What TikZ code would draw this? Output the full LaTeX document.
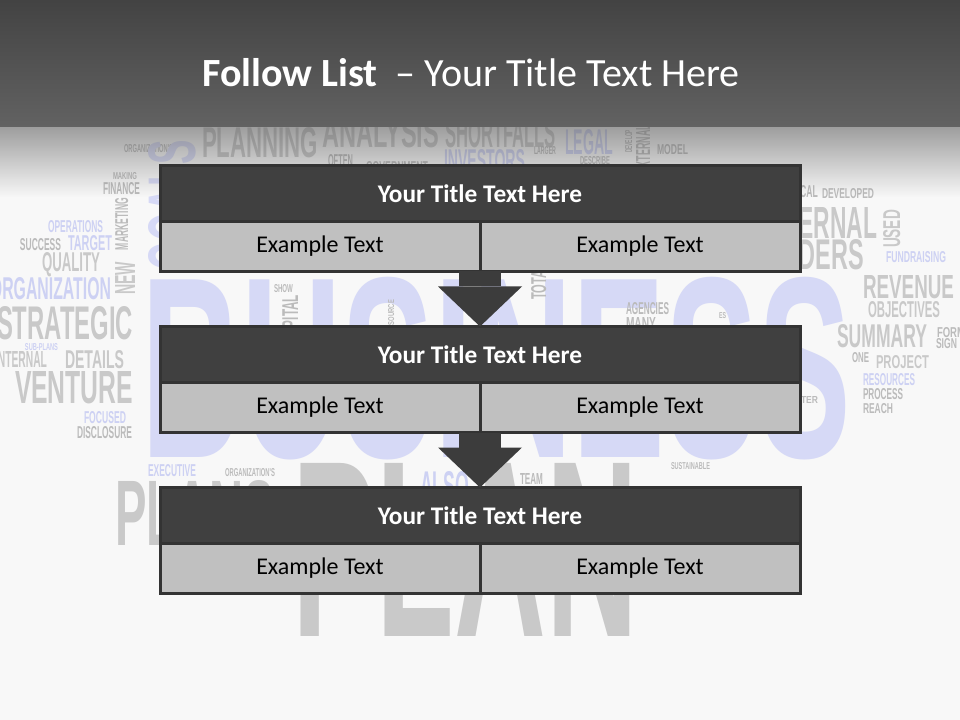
\documentclass[tikz,border=0pt]{standalone}
\usepackage{fontspec}
\setmainfont{Carlito}
\newfontfamily\cloudfont{Liberation Sans}
\usetikzlibrary{arrows.meta,positioning,fadings}

\definecolor{pagebg}{HTML}{F8F8F8}
\definecolor{bandtop}{HTML}{434343}
\definecolor{bandlow}{HTML}{626262}
\definecolor{boxline}{HTML}{333333}
\definecolor{headfill}{HTML}{404040}
\definecolor{cellfill}{HTML}{C0C0C0}
\definecolor{arrowfill}{HTML}{3C3C3C}
\definecolor{lavsmall}{HTML}{CDD1F3}
\definecolor{lavbig}{HTML}{D6D9F6}
\definecolor{graybig}{HTML}{C9C9C9}
\definecolor{graysmall}{HTML}{BBBBBB}

% one pixel of the 960x720 slide
\newlength\pxu
\setlength\pxu{0.75pt}
% word of the cloud: width, cap height, text
\newcommand\cloudword[3]{\resizebox{#1\pxu}{#2\pxu}{\cloudfont\bfseries #3}}
% upright word of the cloud: thickness, length, text
\newcommand\cloudup[3]{\rotatebox{90}{\resizebox{#2\pxu}{#1\pxu}{\cloudfont\bfseries #3}}}

\tikzfading[name=bandfade, top color=transparent!40, bottom color=transparent!100]

\tikzset{
	word/.style={anchor=north west, inner sep=0pt, outer sep=0pt},
	head/.style={draw=boxline, fill=headfill, line width=2.25pt, inner sep=0pt, outer sep=0pt,
		minimum width=480pt, minimum height=42pt, text=white, font=\bfseries\fontsize{19}{21}\selectfont},
	cell/.style={draw=boxline, fill=cellfill, line width=2.25pt, inner sep=0pt, outer sep=0pt,
		minimum width=240pt, minimum height=37.5pt, font=\fontsize{18}{20}\selectfont},
	flow/.style={draw=arrowfill, line width=31.5pt,
		-{Triangle[length=30pt, width=63pt, line width=0pt]}},
}

\begin{document}
\begin{tikzpicture}[x=0.75pt, y=-0.75pt]
	\useasboundingbox (0,0) rectangle (960,720);
	\clip (0,0) rectangle (960,720);
	\fill[pagebg] (0,0) rectangle (960,720);

	% word cloud, left
	\node[word, text=graysmall] (orgs) at (124,145) {\cloudword{49}{8}{ORGANIZATION'S}};
	\node[word, text=graysmall] (making) at (113,173) {\cloudword{24}{7}{MAKING}};
	\node[word, text=graysmall] (finance) at (103,183) {\cloudword{37}{12}{FINANCE}};
	\node[word, text=lavbig] (goals) at (148,140) {\cloudup{47}{130}{GOALS}};
	\node[word, text=lavsmall] (operations) at (48,221) {\cloudword{55}{12}{OPERATIONS}};
	\node[word, text=graysmall] (success) at (20,239) {\cloudword{41}{12}{SUCCESS}};
	\node[word, text=lavsmall] (target) at (68,236) {\cloudword{44}{15}{TARGET}};
	\node[word, text=graysmall] (marketing) at (115,198) {\cloudup{13}{52}{MARKETING}};
	\node[word, text=graybig] (quality) at (42,253) {\cloudword{58}{19}{QUALITY}};
	\node[word, text=graybig] (new) at (115,262) {\cloudup{20}{33}{NEW}};
	\node[word, text=lavsmall] (organization) at (-10,278) {\cloudword{121}{22}{ORGANIZATION}};
	\node[word, text=graybig] (strategic) at (-3,307) {\cloudword{136}{33}{STRATEGIC}};
	\node[word, text=lavsmall] (subplans) at (25,343) {\cloudword{33}{7}{SUB-PLANS}};
	\node[word, text=graybig] (internal) at (-5,352) {\cloudword{52}{16}{INTERNAL}};
	\node[word, text=graybig] (details) at (65,350) {\cloudword{59}{18}{DETAILS}};
	\node[word, text=graybig] (venture) at (15,371) {\cloudword{118}{32}{VENTURE}};
	\node[word, text=lavsmall] (focused) at (84,411) {\cloudword{42}{12}{FOCUSED}};
	\node[word, text=graysmall] (disclosure) at (77,426) {\cloudword{55}{12}{DISCLOSURE}};
	\node[word, text=lavsmall] (executive) at (148,464) {\cloudword{48}{12}{EXECUTIVE}};
	\node[word, text=graysmall] (orgs2) at (225,468) {\cloudword{50}{8}{ORGANIZATION'S}};
	\node[word, text=graybig] (plans) at (115,480) {\cloudword{160}{65}{PLANS}};

	% word cloud, middle
	\node[word, text=lavbig] (business) at (141,277) {\cloudword{709}{180}{BUSINESS}};
	\node[word, text=graybig] (plan) at (292,463) {\cloudword{346}{173}{PLAN}};
	\node[word, text=graybig] (planning) at (202,128) {\cloudword{116}{30}{PLANNING}};
	\node[word, text=graybig] (analysis) at (322,118) {\cloudword{117}{30}{ANALYSIS}};
	\node[word, text=graysmall] (often) at (328,155) {\cloudword{25}{12}{OFTEN}};
	\node[word, text=graysmall] (government) at (366,162) {\cloudword{62}{11}{GOVERNMENT}};
	\node[word, text=graybig] (shortfalls) at (445,119) {\cloudword{111}{29}{SHORTFALLS}};
	\node[word, text=lavsmall] (investors) at (444,150) {\cloudword{81}{22}{INVESTORS}};
	\node[word, text=graysmall] (larger) at (534,147) {\cloudword{22}{8}{LARGER}};
	\node[word, text=lavsmall] (legal) at (565,130) {\cloudword{48}{25}{LEGAL}};
	\node[word, text=graysmall] (describe) at (580,157) {\cloudword{30}{8}{DESCRIBE}};
	\node[word, text=graysmall] (develop) at (625,130) {\cloudup{7}{23}{DEVELOP}};
	\node[word, text=graysmall] (external1) at (636,125) {\cloudup{14}{48}{EXTERNAL}};
	\node[word, text=graysmall] (model) at (657,145) {\cloudword{31}{10}{MODEL}};
	\node[word, text=graysmall] (show) at (274,284) {\cloudword{19}{8}{SHOW}};
	\node[word, text=graysmall] (capital) at (282,295) {\cloudup{16}{50}{CAPITAL}};
	\node[word, text=graysmall] (source) at (388,300) {\cloudup{6}{25}{SOURCE}};
	\node[word, text=graysmall] (total) at (531,264) {\cloudup{15}{36}{TOTAL}};
	\node[word, text=graysmall] (agencies) at (626,303) {\cloudword{43}{12}{AGENCIES}};
	\node[word, text=graysmall] (many) at (626,317) {\cloudword{30}{12}{MANY}};
	\node[word, text=graysmall] (es) at (719,312) {\cloudword{7}{6}{ES}};
	\node[word, text=graysmall] (better) at (784,396) {\cloudword{34}{7}{BETTER}};
	\node[word, text=lavsmall] (also) at (420,471) {\cloudword{49}{28}{ALSO}};
	\node[word, text=graysmall] (team) at (520,473) {\cloudword{23}{11}{TEAM}};
	\node[word, text=graysmall] (sustainable) at (671,462) {\cloudword{39}{7}{SUSTAINABLE}};

	% word cloud, right
	\node[word, text=graysmall] (technical) at (768,186) {\cloudword{50}{12}{TECHNICAL}};
	\node[word, text=graysmall] (developed) at (822,189) {\cloudword{52}{10}{DEVELOPED}};
	\node[word, text=graybig] (external2) at (754,207) {\cloudword{123}{31}{EXTERNAL}};
	\node[word, text=graybig] (leaders) at (752,240) {\cloudword{112}{30}{LEADERS}};
	\node[word, text=graybig] (used) at (883,210) {\cloudup{17}{38}{USED}};
	\node[word, text=lavsmall] (fundraising) at (886,252) {\cloudword{60}{11}{FUNDRAISING}};
	\node[word, text=graybig] (revenue) at (863,275) {\cloudword{91}{23}{REVENUE}};
	\node[word, text=graybig] (objectives) at (868,302) {\cloudword{72}{16}{OBJECTIVES}};
	\node[word, text=graybig] (summary) at (837,325) {\cloudword{90}{23}{SUMMARY}};
	\node[word, text=graysmall] (form) at (937,327) {\cloudword{28}{10}{FORM}};
	\node[word, text=graysmall] (sign) at (936,338) {\cloudword{21}{10}{SIGN}};
	\node[word, text=graysmall] (one) at (852,352) {\cloudword{17}{10}{ONE}};
	\node[word, text=graybig] (project) at (876,355) {\cloudword{53}{13}{PROJECT}};
	\node[word, text=lavsmall] (resources) at (863,373) {\cloudword{52}{12}{RESOURCES}};
	\node[word, text=graysmall] (process) at (863,388) {\cloudword{40}{11}{PROCESS}};
	\node[word, text=graysmall] (reach) at (863,403) {\cloudword{30}{10}{REACH}};

	% title band
	\fill[top color=bandtop, bottom color=bandlow] (0,0) rectangle (960,127);
	\fill[bandlow, path fading=bandfade] (0,127) rectangle (960,197);
	\node[anchor=base, text=white, font=\fontsize{30}{34}\selectfont] (title) at (471,87)
		{\textbf{Follow List}\ \ -- Your Title Text Here};

	% boxes
	\node[head] (t1) at (480,193.5) {Your Title Text Here};
	\node[cell, below right=0pt of t1.south west] (l1) {Example Text};
	\node[cell, below left=0pt of t1.south east] (r1) {Example Text};

	\node[head] (t2) at (480,354.5) {Your Title Text Here};
	\node[cell, below right=0pt of t2.south west] (l2) {Example Text};
	\node[cell, below left=0pt of t2.south east] (r2) {Example Text};

	\node[head] (t3) at (480,515.5) {Your Title Text Here};
	\node[cell, below right=0pt of t3.south west] (l3) {Example Text};
	\node[cell, below left=0pt of t3.south east] (r3) {Example Text};

	\draw[flow] (l1.south east) -- (t2.north);
	\draw[flow] (l2.south east) -- (t3.north);
\end{tikzpicture}
\end{document}
